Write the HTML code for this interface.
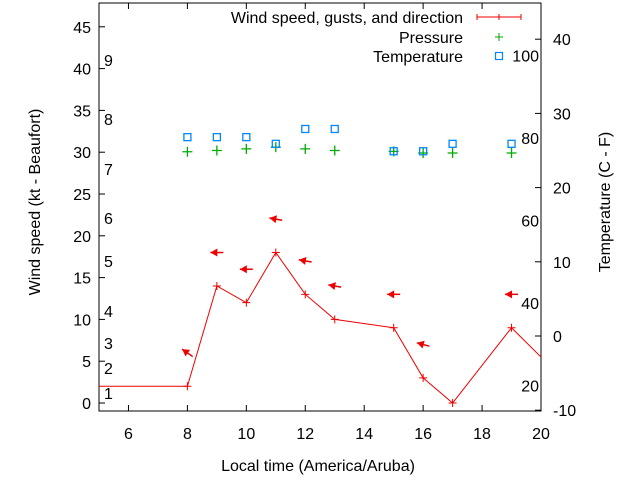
<!DOCTYPE html>
<html><head><meta charset="utf-8"><style>
body{margin:0;background:#fff;}
svg text{font-family:"Liberation Sans",sans-serif;font-size:16px;fill:#000;}
</style></head><body>
<svg id="chart" width="640" height="480" xmlns="http://www.w3.org/2000/svg"></svg>
<script>
const hours = [4, 8, 9, 10, 11, 12, 13, 15, 16, 17, 19, 21];
const windSpeed = [2, 2, 14, 12, 18, 13, 10, 9, 3, 0, 9, 2];
const arrowHours = [8, 9, 10, 11, 12, 13, 15, 16, 19];
const arrowSpeed = [2, 14, 12, 18, 13, 10, 9, 3, 9];
const windFrom = [125, 90, 90, 100, 100, 100, 90, 105, 90];
const pressHours = [8, 9, 10, 11, 12, 13, 15, 16, 17, 19];
const pressure = [30.05, 30.2, 30.4, 30.6, 30.4, 30.2, 30.1, 29.9, 29.9, 29.9];
const tempHours = [8, 9, 10, 11, 12, 13, 15, 16, 17, 19];
const tempC = [26.8, 26.8, 26.8, 25.9, 27.9, 27.9, 24.9, 24.9, 25.9, 25.9];
const xTicks = [6, 8, 10, 12, 14, 16, 18, 20];
const yTicks = [0, 5, 10, 15, 20, 25, 30, 35, 40, 45];
const cTicks = [-10, 0, 10, 20, 30, 40];
const beaufort = [["1",393],["2",368],["3",343],["4",311],["5",261],["6",218],["7",169],["8",119],["9",60]];
const fLabels = [20, 40, 60, 80, 100];

const L=99,R=541,T=3,B=411;
const X=h=>L+(h-5)*(R-L)/15;
const Y=v=>403-v*8.36;
const YC=c=>336-c*7.42;
const YF=f=>YC((f-32)*5/9);
const svg=document.getElementById('chart');
const NS='http://www.w3.org/2000/svg';
function mk(tag,attrs,name,parent){const e=document.createElementNS(NS,tag);for(const k in attrs)e.setAttribute(k,attrs[k]);


(parent||svg).appendChild(e);return e;}
function txt(x,y,s,anchor,name,rot){const t=mk('text',{x:x,y:y,'text-anchor':anchor||'middle'},name);if(rot)t.setAttribute('transform',rot);t.textContent=s;return t;}

const defs=document.createElementNS(NS,'defs');svg.appendChild(defs);
const cp=document.createElementNS(NS,'clipPath');cp.setAttribute('id','pc');defs.appendChild(cp);
const cr=document.createElementNS(NS,'rect');cr.setAttribute('x',L);cr.setAttribute('y',T);cr.setAttribute('width',R-L);cr.setAttribute('height',B-T);cp.appendChild(cr);

mk('rect',{x:L,y:T,width:R-L,height:B-T,fill:'none',stroke:'#000','stroke-width':1},'plot-frame');
xTicks.forEach(h=>{const x=X(h);
mk('line',{x1:x,y1:B,x2:x,y2:B-6,stroke:'#000'},'x-tick');
mk('line',{x1:x,y1:T,x2:x,y2:T+6,stroke:'#000'},'x-tick-top');
txt(x,439,String(h),'middle','x-tick-label');});
yTicks.forEach(v=>{const y=Y(v);
mk('line',{x1:L,y1:y,x2:L+6,y2:y,stroke:'#000'},'y-tick');
txt(91,y+6,String(v),'end','y-tick-label');});
cTicks.forEach(c=>{const y=YC(c);
mk('line',{x1:R,y1:y,x2:R-6,y2:y,stroke:'#000'},'y2-tick');
txt(553,y+6,String(c),'start','y2-tick-label');});
beaufort.forEach(b=>txt(104,b[1]+6,b[0],'start','beaufort-label'));
fLabels.forEach(f=>txt(539,YF(f)+6,String(f),'end','fahrenheit-label'));

txt(318,471,'Local time (America/Aruba)','middle','x-axis-title');
txt(0,0,'Wind speed (kt - Beaufort)','middle','y-axis-title','translate(40,202) rotate(-90)');
txt(0,0,'Temperature (C - F)','middle','y2-axis-title','translate(610,202) rotate(-90)');

const g=mk('g',{'clip-path':'url(#pc)'},'plot-area');
let d=hours.map((h,i)=>(i?'L':'M')+X(h)+','+Y(windSpeed[i])).join(' ');
mk('path',{d:d,fill:'none',stroke:'#e00','stroke-width':1},'wind-line',g);
hours.forEach((h,i)=>{const x=X(h),y=Y(windSpeed[i]);
mk('path',{d:`M${x-4},${y}H${x+4}M${x},${y-4}V${y+4}`,stroke:'#e00'},'wind-point',g);});
arrowHours.forEach((h,i)=>{const x=X(h),y=Y(arrowSpeed[i]+4);
const to=(windFrom[i]+180)*Math.PI/180;const dx=Math.sin(to),dy=-Math.cos(to);const len=13;
const x1=x-dx*len/2,y1=y-dy*len/2,x2=x+dx*len/2,y2=y+dy*len/2;
mk('line',{x1:x1,y1:y1,x2:x2,y2:y2,stroke:'#e00','stroke-width':1.5},'wind-arrow',g);
const px=-dy,py=dx;
mk('polygon',{points:`${x2},${y2} ${x2-dx*7+px*4},${y2-dy*7+py*4} ${x2-dx*7-px*4},${y2-dy*7-py*4}`,fill:'#e00'},'wind-arrow-head',g);});
pressHours.forEach((h,i)=>{const x=X(h),y=Y(pressure[i]);
mk('path',{d:`M${x-5},${y}H${x+5}M${x},${y-5}V${y+5}`,stroke:'#0a0','stroke-width':1.3},'pressure-point',g);});
tempHours.forEach((h,i)=>{const x=X(h),y=YC(tempC[i]);
mk('rect',{x:x-3.5,y:y-3.5,width:7,height:7,fill:'none',stroke:'#08f','stroke-width':1.3},'temperature-point',g);});

txt(463,23,'Wind speed, gusts, and direction','end','legend-wind-label');
mk('path',{d:'M477,17H521M477,14V20M521,14V20M499,14V20',stroke:'#e00'},'legend-wind-sample');
txt(463,43,'Pressure','end','legend-pressure-label');
mk('path',{d:'M495,37H503M499,33V41',stroke:'#0a0'},'legend-pressure-sample');
txt(463,62,'Temperature','end','legend-temperature-label');
mk('rect',{x:495.5,y:52.5,width:7,height:7,fill:'none',stroke:'#08f','stroke-width':1.2},'legend-temperature-sample');
</script>
</body></html>
